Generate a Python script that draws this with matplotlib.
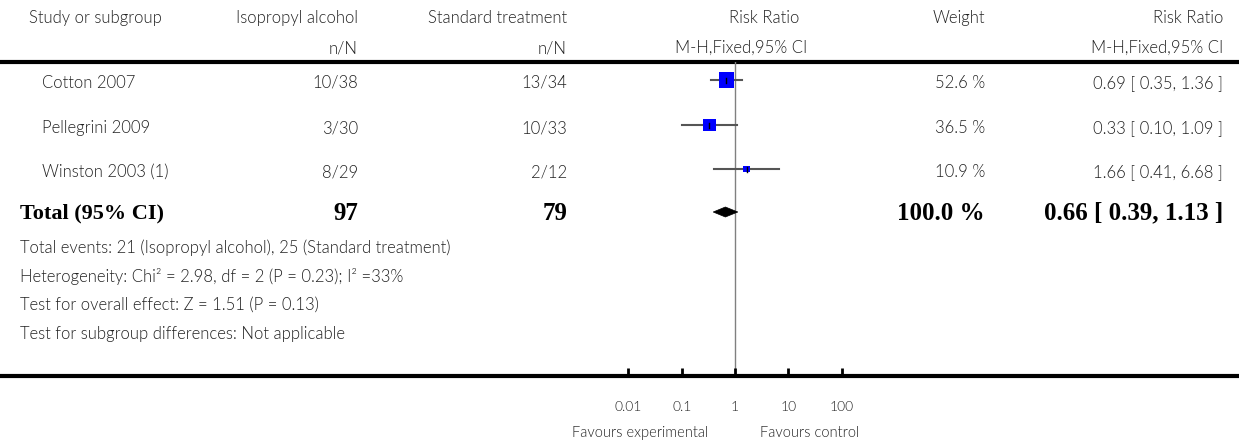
import numpy as np
import matplotlib
matplotlib.use("Agg")
from matplotlib import pyplot as plt
from matplotlib.patches import Rectangle, Polygon

# study data
studies = ["Cotton 2007", "Pellegrini 2009", "Winston 2003 (1)"]
exp_events = [10, 3, 8]
exp_total = [38, 30, 29]
ctl_events = [13, 10, 2]
ctl_total = [34, 33, 12]
weights = [52.6, 36.5, 10.9]
rr = [0.69, 0.33, 1.66]
rr_lo = [0.35, 0.10, 0.41]
rr_hi = [1.36, 1.09, 6.68]

total_exp = 97
total_ctl = 79
total_rr, total_lo, total_hi = 0.66, 0.39, 1.13

footer = [
    "Total events: 21 (Isopropyl alcohol), 25 (Standard treatment)",
    "Heterogeneity: Chi\u00b2 = 2.98, df = 2 (P = 0.23); I\u00b2 =33%",
    "Test for overall effect: Z = 1.51 (P = 0.13)",
    "Test for subgroup differences: Not applicable",
]
tick_vals = [0.01, 0.1, 1, 10, 100]
tick_labels = ["0.01", "0.1", "1", "10", "100"]

W, H = 1239, 446
SANS = ["Lato", "DejaVu Sans"]
SERIF = ["Liberation Serif", "DejaVu Serif"]
TXT = "#222222"
FS = 12

fig = plt.figure(figsize=(W / 100, H / 100), dpi=100, facecolor="white")

# overlay axes in pixel coordinates for the table text
ax0 = fig.add_axes([0, 0, 1, 1])
ax0.set_xlim(0, W)
ax0.set_ylim(H, 0)
ax0.axis("off")


def txt(x, y, s, ha="left", bold=False, size=FS):
    if bold:
        ax0.text(x, y, s, ha=ha, va="center", family=SERIF, fontweight="bold",
                 fontsize=size, color="black")
    else:
        ax0.text(x, y, s, ha=ha, va="center", family=SANS, fontweight=300,
                 fontsize=size, color=TXT)


# column anchors (pixels)
x_study, x_exp, x_ctl, x_rr, x_w, x_ci = 29, 358, 567, 807, 985, 1223
y_h1, y_h2 = 18, 48
row_y = [83, 128, 172]
y_total = 213

# header
txt(x_study, y_h1, "Study or subgroup")
txt(x_exp, y_h1, "Isopropyl alcohol", ha="right")
txt(x_exp, y_h2, "n/N", ha="right")
txt(x_ctl, y_h1, "Standard treatment", ha="right")
txt(x_ctl, y_h2, "n/N", ha="right")
txt(x_rr - 8, y_h1, "Risk Ratio", ha="right")
txt(x_rr, y_h2, "M-H,Fixed,95% CI", ha="right")
txt(x_w, y_h1, "Weight", ha="right")
txt(x_ci, y_h1, "Risk Ratio", ha="right")
txt(x_ci, y_h2, "M-H,Fixed,95% CI", ha="right")

ax0.plot([0, W], [62, 62], color="black", lw=3, solid_capstyle="butt")
ax0.plot([0, W], [376, 376], color="black", lw=3, solid_capstyle="butt")

# study rows
for i, name in enumerate(studies):
    y = row_y[i]
    txt(42, y, name)
    txt(x_exp, y, f"{exp_events[i]}/{exp_total[i]}", ha="right")
    txt(x_ctl, y, f"{ctl_events[i]}/{ctl_total[i]}", ha="right")
    txt(x_w, y, f"{weights[i]:.1f} %", ha="right")
    txt(x_ci, y, f"{rr[i]:.2f} [ {rr_lo[i]:.2f}, {rr_hi[i]:.2f} ]", ha="right")

# total row (digits are wider in the reference, so numbers get a larger size)
txt(20, y_total, "Total (95% CI)", bold=True, size=16)
txt(x_exp, y_total, f"{total_exp}", ha="right", bold=True, size=18)
txt(x_ctl, y_total, f"{total_ctl}", ha="right", bold=True, size=18)
txt(x_w, y_total, "100.0 %", ha="right", bold=True, size=18)
txt(x_ci, y_total, f"{total_rr:.2f} [ {total_lo:.2f}, {total_hi:.2f} ]",
    ha="right", bold=True, size=18)

for j, line in enumerate(footer):
    txt(20, 248 + j * 28.5, line)

# forest plot axes: 1 at x=735 px, 53.3 px per decade
dec = 53.3
px_left = 735 - 3 * dec
px_right = 735 + 3 * dec
ax = fig.add_axes([px_left / W, (H - 376) / H, (px_right - px_left) / W, (376 - 62) / H])
ax.set_xscale("log")
ax.set_xlim(1e-3, 1e3)
ax.set_ylim(376, 62)
ax.patch.set_alpha(0)
for s in ax.spines.values():
    s.set_visible(False)
ax.set_yticks([])
ax.set_xticks(tick_vals)
ax.set_xticklabels(tick_labels, family=SANS, fontweight=300, fontsize=10, color=TXT)
ax.xaxis.set_minor_locator(matplotlib.ticker.NullLocator())
ax.tick_params(axis="x", direction="in", length=6, width=2, pad=18, colors="black",
               labelcolor=TXT)

ax.axvline(1, color="#808080", lw=1, zorder=1)

for i in range(len(studies)):
    y = row_y[i] - 3
    ax.plot([rr_lo[i], rr_hi[i]], [y, y], color="#555555", lw=1.5, zorder=2)
    side = 2.1 * np.sqrt(weights[i])
    # square centred on the log position
    x_c = np.log10(rr[i])
    half = side / 2 / dec
    ax.add_patch(Rectangle((10 ** (x_c - half), y - side / 2),
                           10 ** (x_c + half) - 10 ** (x_c - half), side,
                           facecolor="#0000FF", edgecolor="none", zorder=3))
    ax.plot([rr[i], rr[i]], [y - 2.5, y + 2.5], color="black", lw=1, zorder=4)

yd = y_total - 1
ax.add_patch(Polygon([[total_lo, yd], [total_rr, yd - 5], [total_hi, yd], [total_rr, yd + 5]],
                     closed=True, facecolor="black", edgecolor="black", lw=0.5, zorder=3))

txt(640, 433, "Favours experimental", ha="center", size=10.5)
txt(810, 433, "Favours control", ha="center", size=10.5)

fig.savefig("out.png", dpi=100, facecolor="white")
